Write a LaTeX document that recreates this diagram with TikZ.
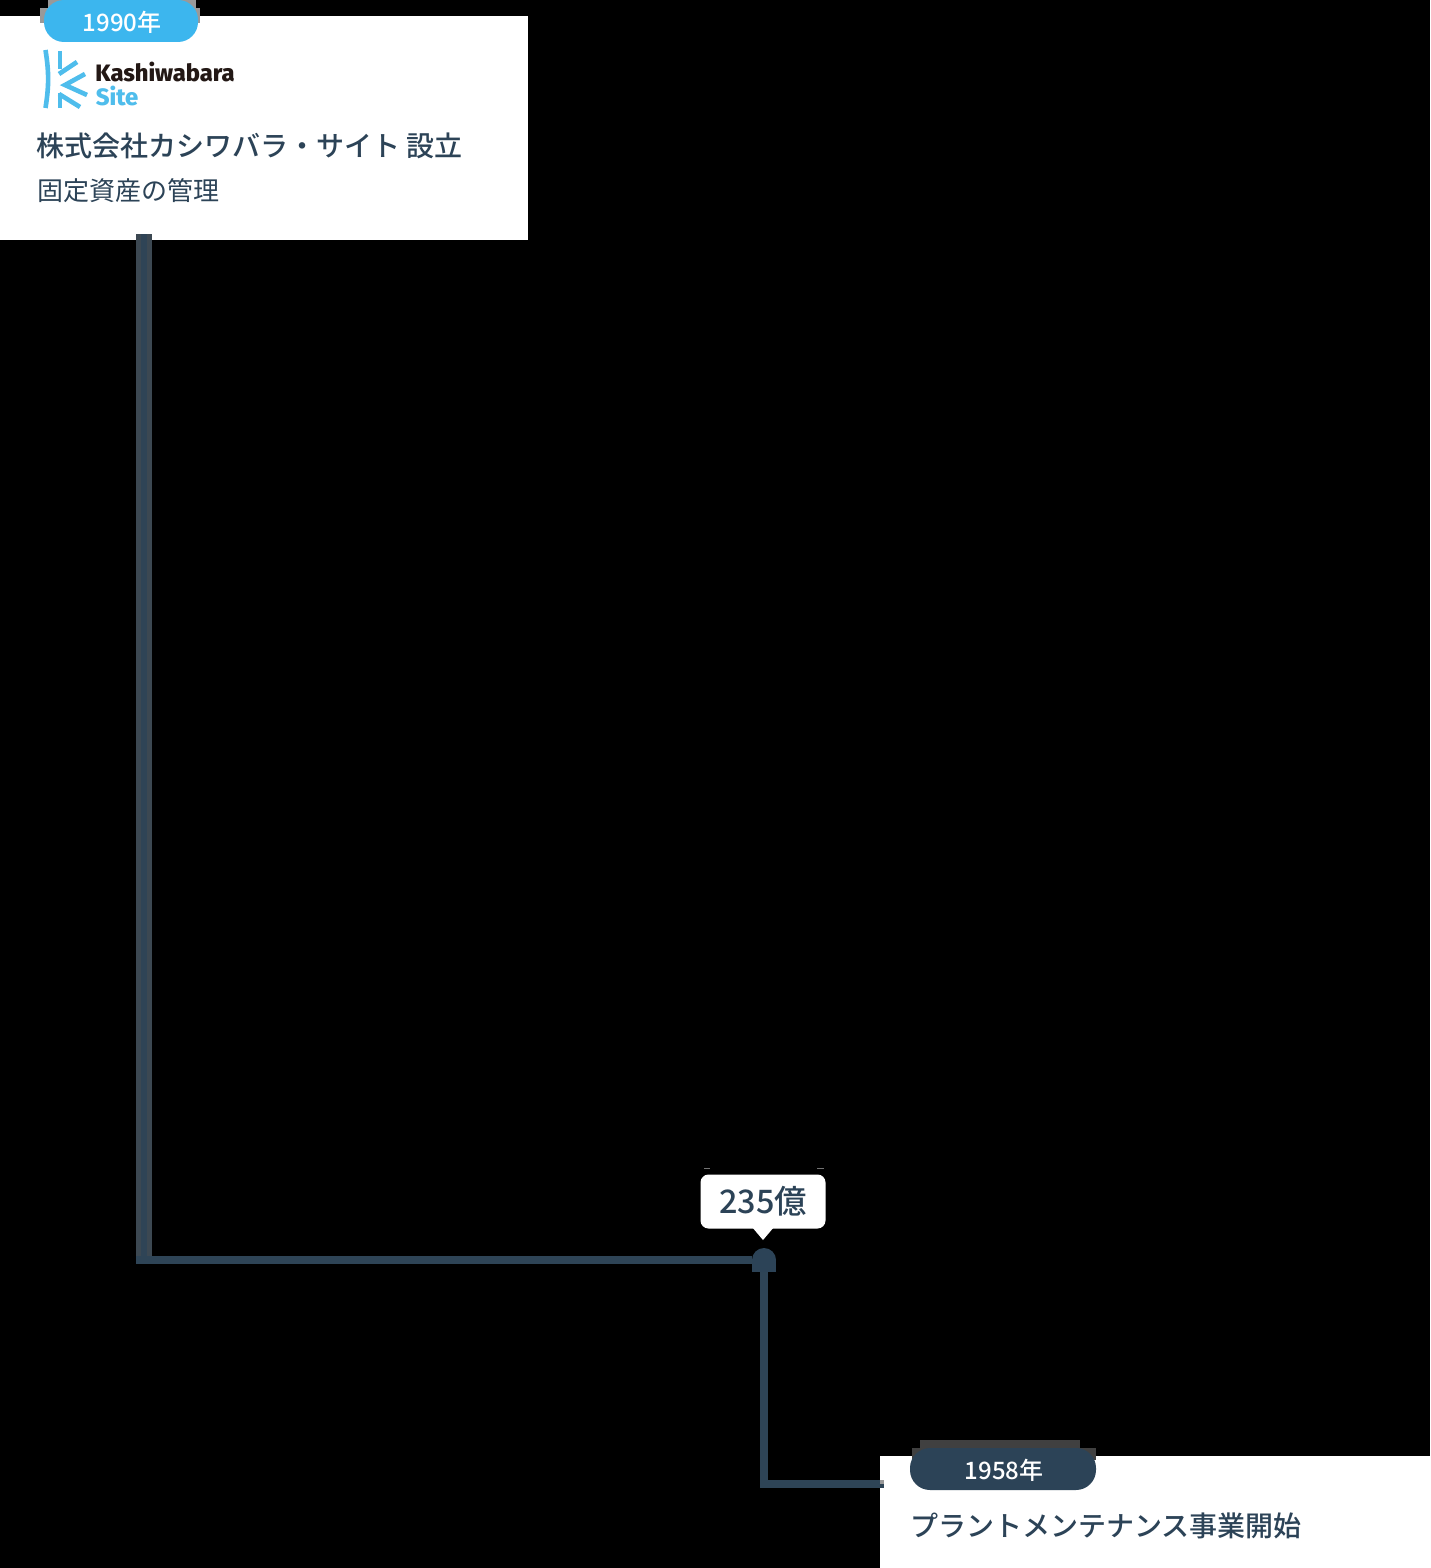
\documentclass[tikz,border=0pt]{standalone}
\usepackage{fontspec}
\setmainfont{Noto Sans CJK JP}
\newfontfamily\medfont{Noto Sans CJK JP Medium}
\newfontfamily\logofont[BoldFont=Fira Sans ExtraBold]{Fira Sans}
\usetikzlibrary{positioning}
\definecolor{navy}{HTML}{2C4357}
\definecolor{linegray}{HTML}{3C4852}
\definecolor{skyblue}{HTML}{3CB6EE}
\definecolor{logoblue}{HTML}{4FBDEC}
\definecolor{logoink}{HTML}{231815}
\tikzset{
  txt/.style={inner sep=0pt,anchor=base west,text=navy},
  pill/.style={rounded corners=10pt,inner sep=0pt,text=white,font=\medfont\fontsize{12}{12}\selectfont},
  logostroke/.style={logoblue,line width=2.3pt},
}
\begin{document}
\begin{tikzpicture}[x=0.5pt,y=-0.5pt]
\useasboundingbox (0,0) rectangle (1430,1568);
\fill[black] (0,0) rectangle (1430,1568);

% white cards
\fill[white] (0,16) rectangle (528,240);
\fill[white] (880,1456) rectangle (1430,1568);

% bits behind the pills
\fill[black!40] (48,0) rectangle (196,16);
\fill[black!40] (40,8) rectangle (200,23);
\fill[black!75] (920,1440) rectangle (1080,1456);
\fill[black!75] (912,1448) rectangle (1096,1460);

% named points
\coordinate (sitefoot) at (144,234);
\coordinate (bendA) at (144,1260);
\coordinate (bendB) at (764,1484);
\coordinate (plantend) at (884,1484);
\node[circle,fill=navy,minimum size=12pt,inner sep=0pt] (dot) at (764,1260){};
\fill[navy] (752,1260) rectangle (776,1272);

% connectors
\draw[linegray,line width=8pt] (sitefoot) -- ([yshift=2pt]bendA);
\draw[navy!80!linegray,line width=3pt] (sitefoot) -- (bendA);
\draw[navy!90!linegray,line width=4pt] ([xshift=-4pt]bendA) -- (dot);
\draw[navy!85!linegray,line width=4pt] (dot) -- (bendB) -- (plantend);
\fill[black!40] (880,1480) rectangle (884,1484);

% tooltip
\node[fill=white,rounded corners=4pt,minimum width=62.5pt,minimum height=27pt,inner sep=0pt,
  text=navy,font=\medfont\fontsize{16.2}{16}\selectfont] (value) at (763,1201.5){235億};
\fill[white] (752,1227) -- (763,1240) -- (774,1227) -- cycle;
\draw[black!55,line width=0.5pt] (704,1168.5) -- (710,1168.5);
\draw[black!55,line width=0.5pt] (817,1168.5) -- (824,1168.5);

% pills
\node[pill,fill=skyblue,minimum width=77pt,minimum height=21pt] (year1) at (121,21){\hspace{1pt}\raisebox{-5.5pt}[0pt][0pt]{1990年}};
\node[pill,fill=navy,minimum width=93pt,minimum height=21pt] (year2) at (1003,1469){\hspace{1pt}\raisebox{-5pt}[0pt][0pt]{1958年}};

% logo
\draw[logostroke] (45.5,50) .. controls (49,72) and (49,86) .. (45.5,108);
\draw[logostroke] (60,51) -- (60,69);
\draw[logostroke] (59,74) -- (77,62);
\draw[logostroke] (85,74) -- (65,85) -- (87,95);
\draw[logostroke] (60,93) -- (60,108);
\draw[logostroke] (59,94) -- (80,107);
\node[txt,text=logoink,font=\logofont\bfseries\fontsize{11.85}{11.85}\selectfont] (brand) at (95,82){Kashiwabara};
\node[txt,text=logoblue,font=\logofont\bfseries\fontsize{11.85}{11.85}\selectfont] (brand2) at (95.5,105){Site};

% texts
\node[txt,font=\medfont\fontsize{14}{14}\selectfont] (title1) at (36.5,156){株式会社カシワバラ・サイト 設立};
\node[txt,font=\fontsize{13}{13}\selectfont] (sub1) at (37,200){固定資産の管理};
\node[txt,font=\medfont\fontsize{14}{14}\selectfont] (title2) at (910,1536){プラントメンテナンス事業開始};

\end{tikzpicture}
\end{document}
